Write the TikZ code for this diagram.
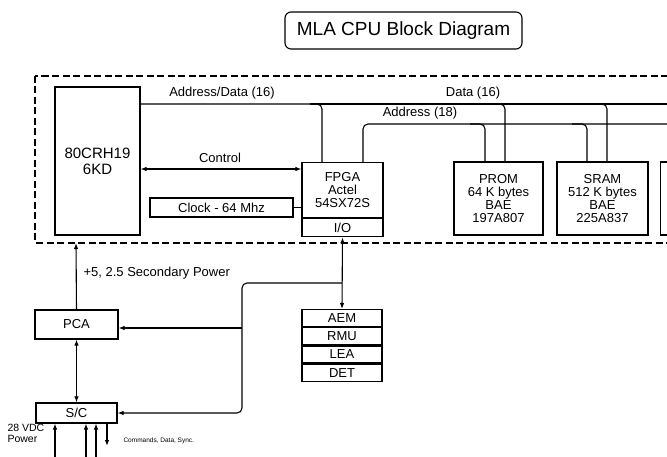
\documentclass[tikz,border=0pt]{standalone}
\usepackage{fontspec}
\setmainfont{Liberation Sans}
\usetikzlibrary{arrows.meta}
\begin{document}
\begin{tikzpicture}[x=1pt,y=-1pt,
  line width=1.1pt,
  box/.style={draw,line width=1.2pt,rectangle,inner sep=0pt,align=center,font=\fontsize{13}{14}\selectfont},
  lbl/.style={inner sep=0pt,font=\fontsize{13}{14}\selectfont},
  tip/.style={-{Latex[length=6pt,width=4.5pt]}},
  tips/.style={{Latex[length=6pt,width=4.5pt]}-{Latex[length=6pt,width=4.5pt]}},
  bus/.style={rounded corners=5pt}
]
\useasboundingbox (0,0) rectangle (667,457);
\clip (0,0) rectangle (667,457);
\fill[white] (0,0) rectangle (667,457);

% title
\node[draw,line width=1.1pt,rounded corners=6pt,minimum width=237pt,minimum height=37pt,inner sep=0pt,font=\fontsize{19}{22}\selectfont] (title) at (403.5,30.5) {MLA CPU Block Diagram};

% dashed enclosure
\draw[line width=1.2pt,dash pattern=on 7pt off 3.5pt] (35,76) rectangle (720,243);

% blocks
\node[box,minimum width=85pt,minimum height=148pt,font=\fontsize{15}{16}\selectfont] (cpu) at (97.5,161) {80CRH19\\6KD};
\node[box,minimum width=81pt,minimum height=55pt,anchor=north] (fpga) at (342.5,162) {FPGA\\[-1pt]Actel\\[-1pt]54SX72S};
\node[box,minimum width=81pt,minimum height=18pt,anchor=north] (io) at (fpga.south) {I/O};
\node[box,minimum width=143pt,minimum height=19pt] (clk) at (221.5,207.5) {Clock - 64 Mhz};
\node[box,minimum width=89pt,minimum height=73pt] (prom) at (498.5,198.5) {PROM\\[-1pt]64 K bytes\\[-1pt]BAE\\[-1pt]197A807};
\node[box,minimum width=91pt,minimum height=73pt] (sram) at (602.5,198.5) {SRAM\\[-1pt]512 K bytes\\[-1pt]BAE\\[-1pt]225A837};
\node[box,minimum width=90pt,minimum height=73pt,anchor=west] (third) at (660,198.5) {};

\node[box,minimum width=83pt,minimum height=29pt] (pca) at (76.5,324.5) {PCA};
\node[box,minimum width=81pt,minimum height=20pt] (sc) at (76.5,413) {S/C};

\node[box,minimum width=80pt,minimum height=17pt,anchor=north] (aem) at (342,309) {AEM};
\node[box,minimum width=80pt,minimum height=17pt,anchor=north] (rmu) at (aem.south) {RMU};
\node[box,minimum width=80pt,minimum height=17pt,anchor=north] (lea) at (rmu.south) {LEA};
\node[box,minimum width=80pt,minimum height=17pt,anchor=north] (det) at (lea.south) {DET};

% coordinates
\coordinate (adbus) at (0,104);
\coordinate (abus) at (0,124);
\coordinate (busend) at (720,0);
\coordinate (dF) at (322,0);
\coordinate (aF) at (363,0);
\coordinate (dP) at (505,0);
\coordinate (aP) at (485,0);
\coordinate (dS) at (607,0);
\coordinate (aS) at (587,0);
\coordinate (pwr) at (76,243);
\coordinate (brTop) at (342,283);
\coordinate (brX) at (242,0);
\coordinate (pcaIn) at (0,328);

% Address/Data & Data bus
\draw[bus] (cpu.east |- adbus) -| (fpga.north -| dF);
\draw (310,104) -- (busend |- adbus);
\draw[bus] (490,104) -| (prom.north -| dP);
\draw[bus] (592,104) -| (sram.north -| dS);
% Address bus
\draw[bus] (fpga.north -| aF) |- (busend |- abus);
\draw[bus] (470,124) -| (prom.north -| aP);
\draw[bus] (572,124) -| (sram.north -| aS);

\node[lbl] at (222,93) {Address/Data (16)};
\node[lbl] at (473,93) {Data (16)};
\node[lbl] at (420,113) {Address (18)};

% control & clock
\draw[tips] (cpu.east |- 0,169) -- (fpga.west |- 0,169);
\node[lbl] at (220,158) {Control};
\draw (clk.east) -- (clk.east -| fpga.west);

% I/O to stack
\draw[tips] (io.south) -- (aem.north);
\draw[tip,rounded corners=5pt] (brTop) -- (brTop -| brX) -- (brX |- sc.east) -- (sc.east);
\draw[tip] (brX |- pcaIn) -- (pca.east |- pcaIn);

% power
\draw[tip] (pca.north) -- (pwr);
\node[lbl,anchor=west] at (83,273) {+5, 2.5 Secondary Power};
\draw[tips] (pca.south) -- (sc.north);

% bottom arrows
\draw[tip] (55,457) -- (sc.south -| 55,0);
\draw[tip] (86,457) -- (sc.south -| 86,0);
\draw[tip] (96,457) -- (sc.south -| 96,0);
\draw[tip] (sc.south -| 107,0) -- (107,446);
\node[inner sep=0pt,anchor=west,align=left,font=\fontsize{10.5}{11}\selectfont] at (7,433) {28 VDC\\Power};
\node[inner sep=0pt,anchor=west,font=\fontsize{6.5}{8}\selectfont] at (123,441) {Commands, Data, Sync.};
\end{tikzpicture}
\end{document}
